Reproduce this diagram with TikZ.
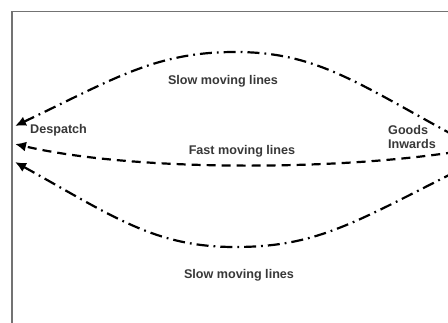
\documentclass[tikz,border=0pt]{standalone}
\usepackage{fontspec}
\setmainfont{Liberation Sans}
\usetikzlibrary{arrows.meta}
\begin{document}
\begin{tikzpicture}[x=1pt,y=-1pt,
  lbl/.style={font=\fontsize{12.6}{14}\selectfont\bfseries, text=black!78, inner sep=0pt},
  slowline/.style={line width=2.2pt, black, dash pattern=on 12pt off 5pt on 1.8pt off 5pt, -{Latex[length=11pt,width=10pt]}},
  fastline/.style={line width=2.2pt, black, dash pattern=on 9pt off 6pt, -{Latex[length=11pt,width=10pt]}},
  frame/.style={draw=black!55, line width=1.6pt}]
\useasboundingbox (0,0) rectangle (448,322);
\clip (0,0) rectangle (448,322);
\fill[white] (0,0) rectangle (448,322);
\draw[frame] (12,340) -- (12,11.5) -- (470,11.5);
% endpoints
\coordinate (dtop) at (15,126);
\coordinate (dmid) at (15,144);
\coordinate (dbot) at (15,162);
\coordinate (gtop) at (455,136);
\coordinate (gmid) at (455,152);
\coordinate (gbot) at (455,172);
% labels
\node[lbl, anchor=west] (desp) at (30,130) {Despatch};
\node[lbl, anchor=west, align=left] (goods) at (388,137) {Goods\\Inwards};
\node[lbl] (slowtop) at (223,81) {Slow moving lines};
\node[lbl] (fast) at (242,151) {Fast moving lines};
\node[lbl] (slowbot) at (239,275) {Slow moving lines};
% connectors
\draw[slowline] (gtop) .. controls (354,81) and (315,52) .. (235,52)
                 .. controls (155,52) and (114,79) .. (dtop);
\draw[fastline] (gmid) .. controls (330,171) and (130,171) .. (dmid);
\draw[slowline] (gbot) .. controls (352,224) and (315,247) .. (235,247)
                 .. controls (155,247) and (114,217) .. (dbot);
\end{tikzpicture}
\end{document}
